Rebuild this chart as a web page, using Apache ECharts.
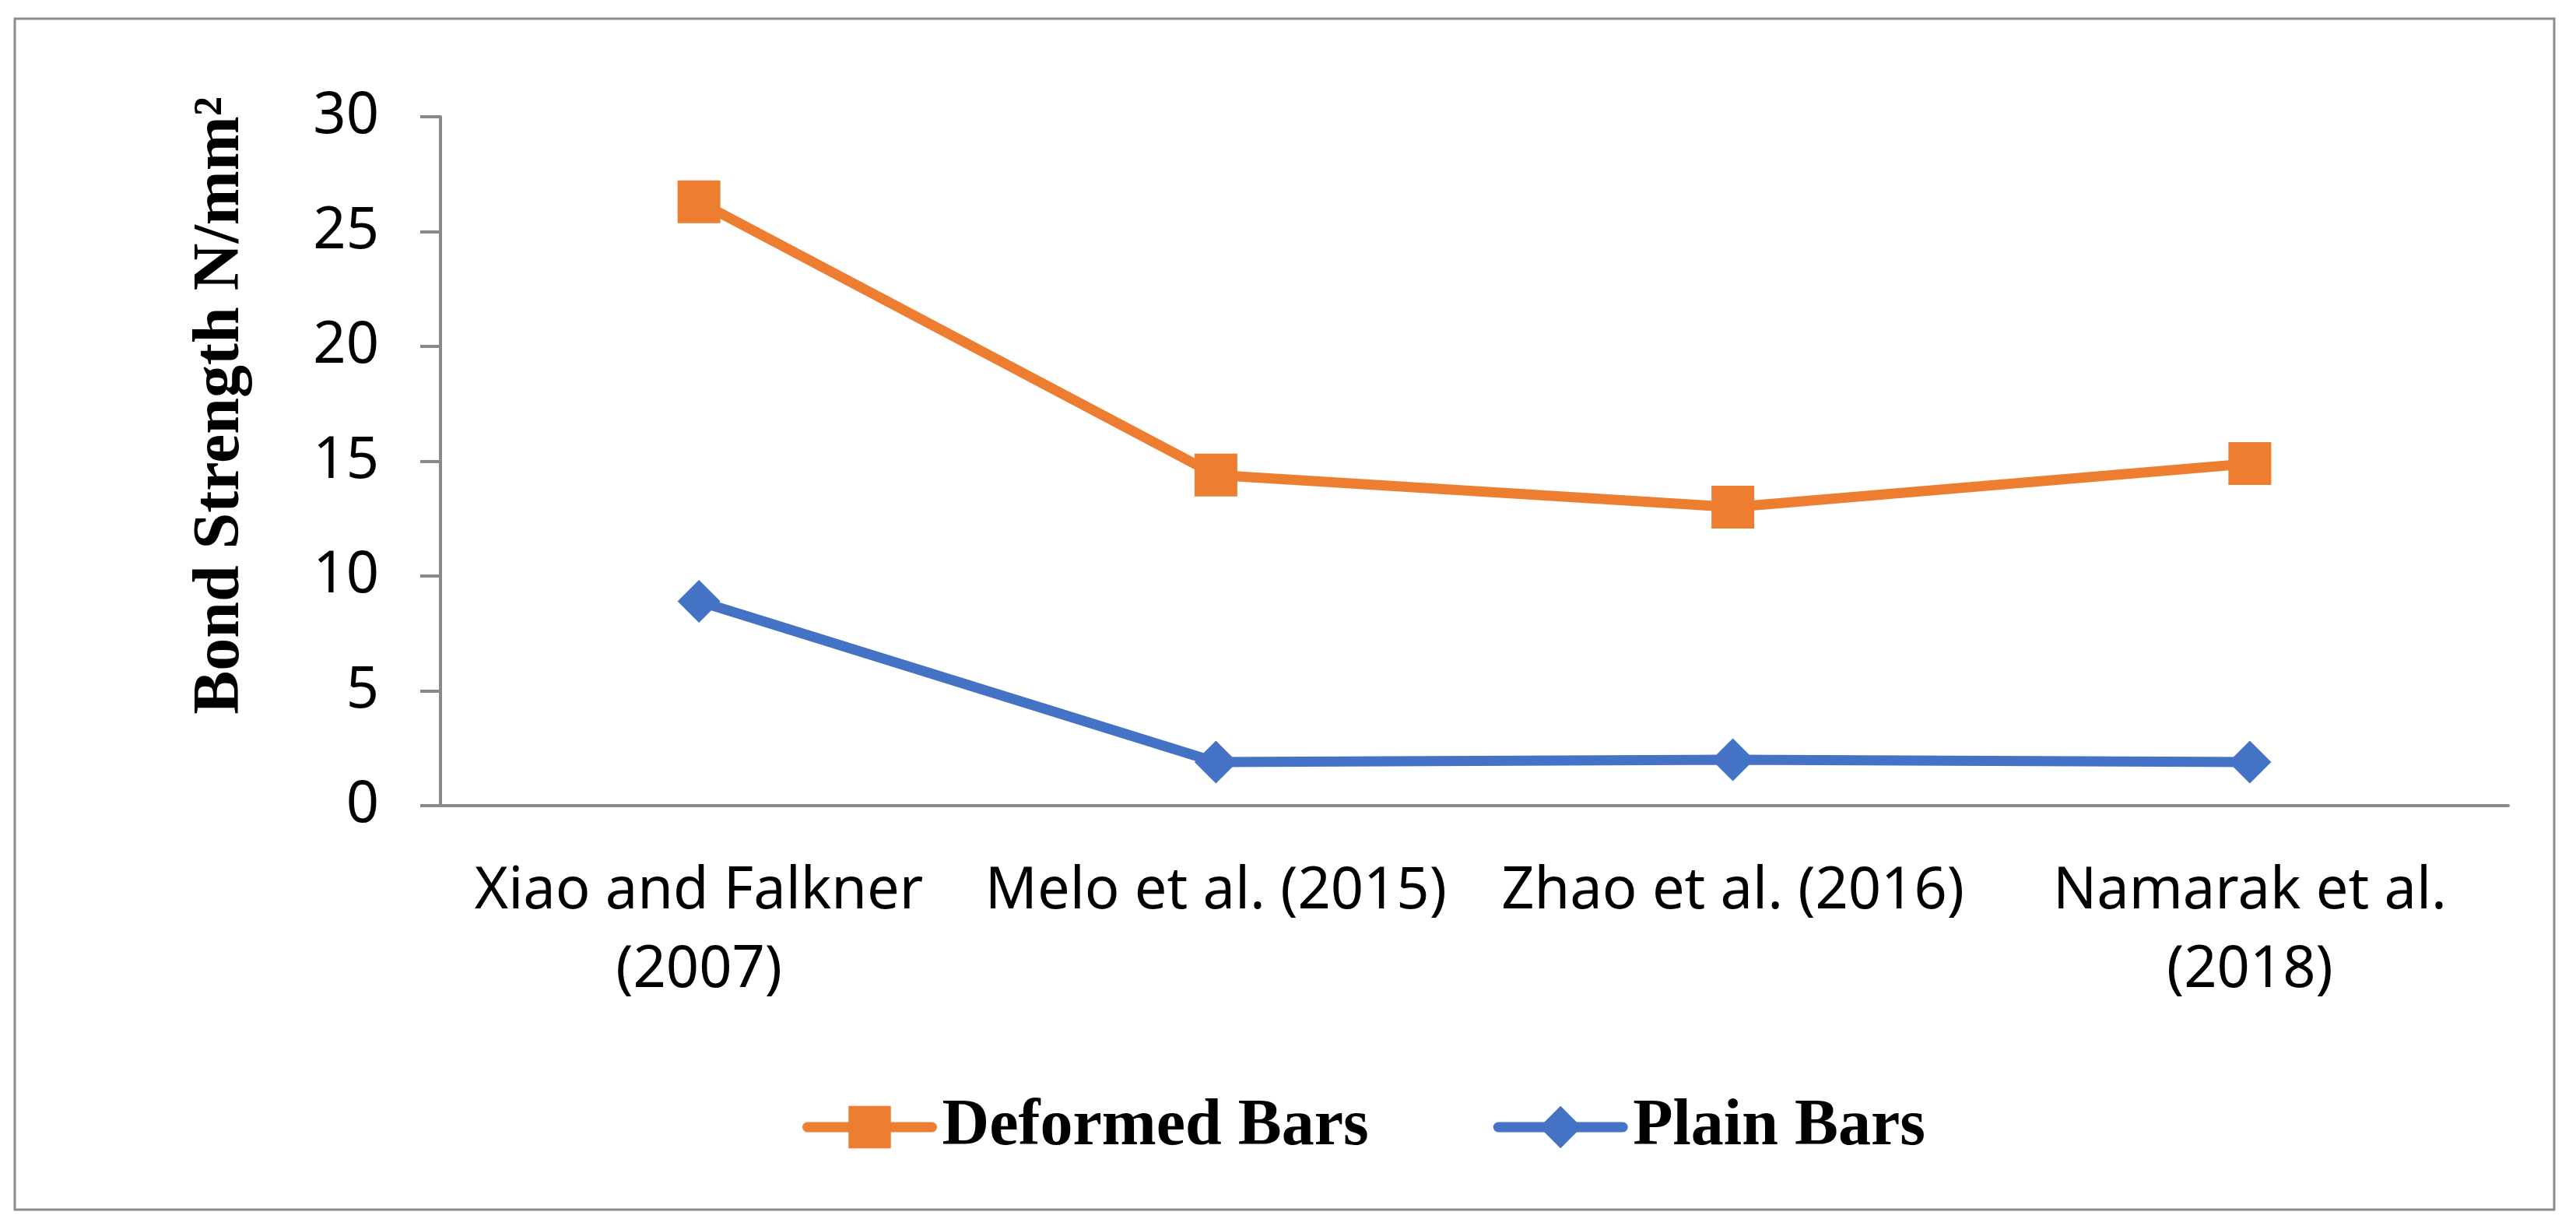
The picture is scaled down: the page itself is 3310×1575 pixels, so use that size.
<!DOCTYPE html>
<html>
<head>
<meta charset="utf-8">
<script src="https://cdn.jsdelivr.net/npm/echarts@6/dist/echarts.min.js"></script>
<style>
html,body{margin:0;padding:0;background:#fff;}
#c{width:3310px;height:1575px;}
</style>
</head>
<body>
<div id="c"></div>
<script>
const categories = ["Xiao and Falkner\n(2007)", "Melo et al. (2015)", "Zhao et al. (2016)", "Namarak et al.\n(2018)"];
const deformedBars = [26.3, 14.4, 13.0, 14.9];
const plainBars = [8.9, 1.9, 2.0, 1.9];
const seriesNames = ["Deformed Bars", "Plain Bars"];
const yAxisTitle = "Bond Strength N/mm\u00B2";

const chart = echarts.init(document.getElementById('c'));
const axisGray = '#898989';
const orange = '#ED7D31';
const blue = '#4472C4';
chart.setOption({
  animation: false,
  backgroundColor: '#fff',
  grid: { left: 566, right: 87, top: 150, bottom: 540, containLabel: false },
  xAxis: {
    type: 'category',
    data: categories,
    boundaryGap: true,
    axisLine: { show: true, lineStyle: { color: axisGray, width: 4 } },
    axisTick: { show: false },
    axisLabel: {
      color: '#000', fontFamily: 'Noto Sans', fontSize: 74, lineHeight: 101,
      margin: 60, interval: 0
    },
    splitLine: { show: false }
  },
  yAxis: {
    type: 'value',
    min: 0, max: 30, interval: 5,
    axisLine: { show: true, lineStyle: { color: axisGray, width: 4 } },
    axisTick: { show: true, length: 26, lineStyle: { color: axisGray, width: 4 } },
    axisLabel: { color: '#000', fontFamily: 'Noto Sans', fontSize: 74, margin: 79 },
    splitLine: { show: false }
  },
  legend: {
    left: 1026, top: 1401,
    itemWidth: 160, itemHeight: 68, itemGap: 160,
    lineStyle: { width: 13, cap: 'round' },
    textStyle: {
      fontFamily: 'Liberation Serif', fontWeight: 'bold', fontSize: 84, color: '#000',
      padding: [0, 0, 0, 8]
    },
    data: seriesNames
  },
  graphic: [
    {
      type: 'rect', silent: true,
      shape: { x: 19, y: 24, width: 3263, height: 1530 },
      style: { fill: 'none', stroke: '#8c8c8c', lineWidth: 3 }
    },
    {
      type: 'text', silent: true,
      x: 284, y: 521, rotation: Math.PI / 2,
      style: {
        text: yAxisTitle, fontFamily: 'Liberation Serif', fontWeight: 'bold',
        fontSize: 84, fill: '#000', align: 'center', verticalAlign: 'middle'
      }
    }
  ],
  series: [
    {
      name: seriesNames[0], type: 'line', data: deformedBars,
      symbol: 'rect', symbolSize: 55,
      lineStyle: { color: orange, width: 13 },
      itemStyle: { color: orange },
      emphasis: { disabled: true }
    },
    {
      name: seriesNames[1], type: 'line', data: plainBars,
      symbol: 'diamond', symbolSize: 55,
      lineStyle: { color: blue, width: 13 },
      itemStyle: { color: blue },
      emphasis: { disabled: true }
    }
  ]
});
</script>
</body>
</html>
